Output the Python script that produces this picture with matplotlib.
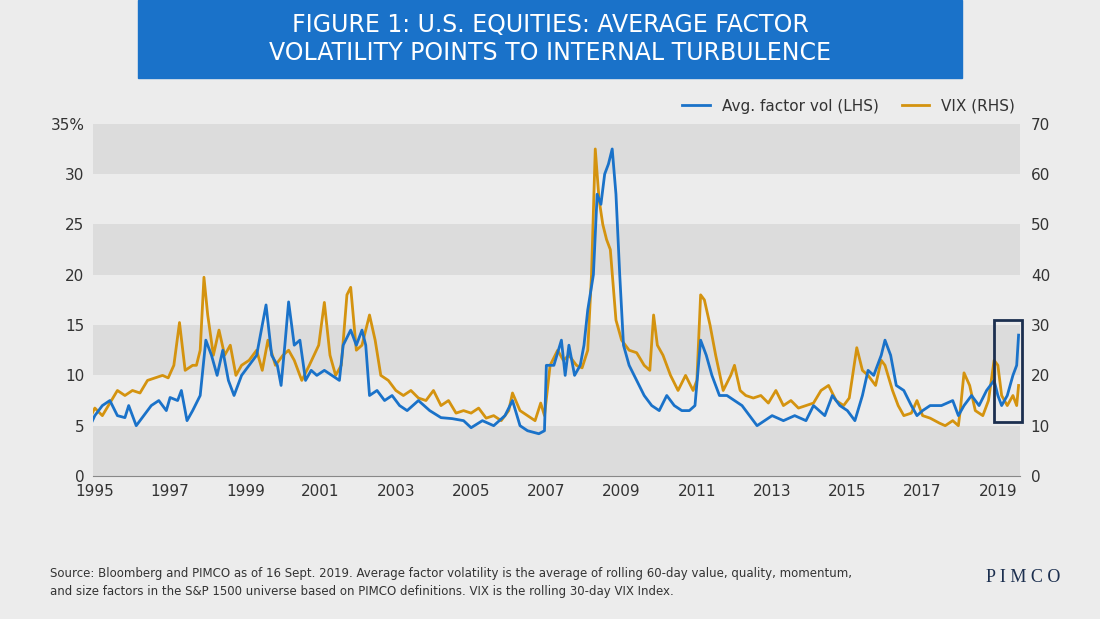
import matplotlib
matplotlib.use("Agg")
import matplotlib.pyplot as plt
from matplotlib.patches import Rectangle

# fractional year, avg factor vol (%)
fv_t = [1994.9, 1995.0, 1995.2, 1995.4, 1995.6, 1995.8, 1995.9, 1996.1, 1996.3, 1996.5, 1996.7, 1996.9,
        1997.0, 1997.2, 1997.3, 1997.45, 1997.6, 1997.8, 1997.95, 1998.1, 1998.25, 1998.4, 1998.55, 1998.7,
        1998.9, 1999.1, 1999.3, 1999.45, 1999.55, 1999.7, 1999.85, 1999.95, 2000.05, 2000.15, 2000.3, 2000.45,
        2000.6, 2000.75, 2000.9, 2001.1, 2001.3, 2001.5, 2001.6, 2001.8, 2001.95, 2002.1, 2002.2, 2002.3,
        2002.5, 2002.7, 2002.9, 2003.1, 2003.3, 2003.6, 2003.9, 2004.2, 2004.5, 2004.8, 2005.0, 2005.3,
        2005.6, 2005.9, 2006.1, 2006.3, 2006.5, 2006.8, 2006.95, 2007.0, 2007.2, 2007.4, 2007.5, 2007.6,
        2007.75, 2007.9, 2008.0, 2008.1, 2008.25, 2008.35, 2008.45, 2008.55, 2008.65, 2008.75, 2008.85, 2008.95,
        2009.05, 2009.2, 2009.4, 2009.6, 2009.8, 2010.0, 2010.2, 2010.4, 2010.6, 2010.8, 2010.95, 2011.1,
        2011.25, 2011.4, 2011.6, 2011.8, 2012.0, 2012.2, 2012.4, 2012.6, 2012.8, 2013.0, 2013.3, 2013.6,
        2013.9, 2014.1, 2014.4, 2014.6, 2014.8, 2015.0, 2015.2, 2015.4, 2015.55, 2015.7, 2015.9, 2016.0,
        2016.15, 2016.3, 2016.5, 2016.7, 2016.85, 2017.0, 2017.2, 2017.5, 2017.8, 2017.95, 2018.1, 2018.3,
        2018.5, 2018.7, 2018.9, 2019.0, 2019.1, 2019.25, 2019.4, 2019.5, 2019.55]
fv_v = [5.2, 6, 7, 7.5, 6, 5.8, 7, 5, 6, 7, 7.5, 6.5,
        7.8, 7.5, 8.5, 5.5, 6.5, 8, 13.5, 12, 10, 12.5, 9.5, 8,
        10, 11, 12, 15, 17, 12, 11, 9, 13, 17.3, 13, 13.5,
        9.5, 10.5, 10, 10.5, 10, 9.5, 13, 14.5, 13, 14.5, 13, 8,
        8.5, 7.5, 8, 7, 6.5, 7.5, 6.5, 5.8, 5.7, 5.5, 4.8, 5.5,
        5, 6, 7.5, 5, 4.5, 4.2, 4.5, 11, 11, 13.5, 10, 13,
        10, 11, 13, 16.5, 20, 28, 27, 30, 31, 32.5, 28, 20,
        13, 11, 9.5, 8, 7, 6.5, 8, 7, 6.5, 6.5, 7, 13.5,
        12, 10, 8, 8, 7.5, 7, 6, 5, 5.5, 6, 5.5, 6,
        5.5, 7, 6, 8, 7, 6.5, 5.5, 8, 10.5, 10, 12, 13.5,
        12, 9, 8.5, 7, 6, 6.5, 7, 7, 7.5, 6, 7, 8,
        7, 8.5, 9.5, 8, 7, 8, 10, 11, 14]

# fractional year, VIX level
vix_t = [1994.9, 1995.0, 1995.2, 1995.4, 1995.6, 1995.8, 1996.0, 1996.2, 1996.4, 1996.6, 1996.8, 1996.95,
         1997.1, 1997.25, 1997.4, 1997.6, 1997.7, 1997.8, 1997.9, 1998.0, 1998.15, 1998.3, 1998.45, 1998.6,
         1998.75, 1998.9, 1999.1, 1999.3, 1999.45, 1999.6, 1999.8, 2000.0, 2000.15, 2000.3, 2000.5, 2000.7,
         2000.95, 2001.1, 2001.25, 2001.4, 2001.55, 2001.7, 2001.8, 2001.95, 2002.1, 2002.3, 2002.45, 2002.6,
         2002.8, 2003.0, 2003.2, 2003.4, 2003.6, 2003.8, 2004.0, 2004.2, 2004.4, 2004.6, 2004.8, 2005.0,
         2005.2, 2005.4, 2005.6, 2005.8, 2006.0, 2006.1, 2006.3, 2006.5, 2006.7, 2006.85, 2006.95, 2007.1,
         2007.3, 2007.45, 2007.6, 2007.8, 2007.95, 2008.1, 2008.2, 2008.3, 2008.4, 2008.5, 2008.6, 2008.7,
         2008.85, 2009.0, 2009.2, 2009.4, 2009.6, 2009.75, 2009.85, 2009.95, 2010.1, 2010.3, 2010.5, 2010.7,
         2010.9, 2011.0, 2011.1, 2011.2, 2011.35, 2011.5, 2011.7, 2011.9, 2012.0, 2012.15, 2012.3, 2012.5,
         2012.7, 2012.9, 2013.1, 2013.3, 2013.5, 2013.7, 2013.9, 2014.1, 2014.3, 2014.5, 2014.7, 2014.9,
         2015.05, 2015.25, 2015.4, 2015.55, 2015.75, 2015.9, 2016.0, 2016.2, 2016.35, 2016.5, 2016.7, 2016.85,
         2017.0, 2017.2, 2017.45, 2017.6, 2017.8, 2017.95, 2018.0, 2018.1, 2018.25, 2018.4, 2018.6, 2018.75,
         2018.9, 2019.0, 2019.1, 2019.25, 2019.4, 2019.5, 2019.55]
vix_v = [12, 13.5, 12, 14.5, 17, 16, 17, 16.5, 19, 19.5, 20, 19.5,
         22, 30.5, 21, 22, 22, 25, 39.5, 32, 24, 29, 24, 26,
         20, 22, 23, 25, 21, 27, 22, 24, 25, 23, 19, 22,
         26, 34.5, 24, 20, 22, 36, 37.5, 25, 26, 32, 27, 20,
         19, 17, 16, 17, 15.5, 15, 17, 14, 15, 12.5, 13, 12.5,
         13.5, 11.5, 12, 11, 13, 16.5, 13, 12, 11, 14.5, 12, 22,
         25, 23, 24, 22, 21.5, 25, 40, 65, 55, 50, 47, 45,
         31, 27, 25, 24.5, 22, 21, 32, 26, 24, 20, 17, 20,
         17, 19, 36, 35, 30, 24, 17, 20, 22, 17, 16, 15.5,
         16, 14.5, 17, 14, 15, 13.5, 14, 14.5, 17, 18, 15, 14,
         15.5, 25.5, 21, 20, 18, 23, 22, 17, 14, 12, 12.5, 15,
         12, 11.5, 10.5, 10, 11, 10, 13, 20.5, 18, 13, 12, 15,
         23, 22, 16, 14, 16, 14, 18]

years = list(range(1995, 2020, 2))
left_ticks = [0, 5, 10, 15, 20, 25, 30, 35]
left_labels = ["0", "5", "10", "15", "20", "25", "30", "35%"]
right_ticks = [0, 10, 20, 30, 40, 50, 60, 70]

BLUE = "#1a72c9"
GOLD = "#d4930f"
TXT = "#333333"

fig = plt.figure(figsize=(11, 6.19), dpi=100, facecolor="#ececec")
ax = fig.add_axes([0.0845, 0.231, 0.8425, 0.569])
ax.plot(fv_t, fv_v, color=BLUE, lw=2, zorder=3, label="Avg. factor vol (LHS)")
ax.set_xlim(1994.95, 2019.58)
ax.set_ylim(0, 35)
ax.set_yticks(left_ticks)
ax.set_yticklabels(left_labels)
ax.set_xticks(years)
ax.tick_params(length=0, labelsize=11, colors=TXT, pad=6)
for s in ax.spines.values():
    s.set_visible(False)
ax.spines["bottom"].set_visible(True)
ax.spines["bottom"].set_color("#888888")

ax2 = ax.twinx()
ax2.plot(vix_t, vix_v, color=GOLD, lw=2, zorder=2, label="VIX (RHS)")
ax2.set_ylim(0, 70)
ax2.set_yticks(right_ticks)
ax2.tick_params(length=0, labelsize=11, colors=TXT, pad=8)
for s in ax2.spines.values():
    s.set_visible(False)
# background bands live on ax2 (drawn below), ax sits on top with transparent patch
ax.set_zorder(ax2.get_zorder() + 1)
ax.patch.set_visible(False)
ax2.patch.set_visible(True)
ax2.patch.set_facecolor("#ececec")
for lo in range(0, 70, 20):
    ax2.axhspan(lo, lo + 10, color="#dcdcdc", lw=0, zorder=0)

ax.add_patch(Rectangle((2018.9, 5.4), 0.75, 10.1, fill=False, ec="#1c2f4f", lw=2,
                       clip_on=False, zorder=5))

h1, l1 = ax.get_legend_handles_labels()
h2, l2 = ax2.get_legend_handles_labels()
ax.legend(h1 + h2, l1 + l2, loc="lower right", bbox_to_anchor=(1.01, 0.99), ncol=2,
          frameon=False, fontsize=11, handlelength=1.8, columnspacing=1.5, labelcolor=TXT)

fig.patches.append(Rectangle((138 / 1100, 1 - 78 / 619), 824 / 1100, 78 / 619,
                             transform=fig.transFigure, color=BLUE, zorder=0))
fig.text(0.5, 1 - 39 / 619, "FIGURE 1: U.S. EQUITIES: AVERAGE FACTOR\nVOLATILITY POINTS TO INTERNAL TURBULENCE",
         ha="center", va="center", color="white", fontsize=17, linespacing=1.25)
fig.text(50 / 1100, 1 - 582 / 619,
         "Source: Bloomberg and PIMCO as of 16 Sept. 2019. Average factor volatility is the average of rolling 60-day value, quality, momentum,\n"
         "and size factors in the S&P 1500 universe based on PIMCO definitions. VIX is the rolling 30-day VIX Index.",
         ha="left", va="center", fontsize=8.5, color=TXT, linespacing=1.5)
fig.text(1060 / 1100, 1 - 577 / 619, "P I M C O", ha="right", va="center", fontsize=13,
         family="Liberation Serif", color="#1c2f4f")

fig.savefig("out.png", dpi=100, facecolor=fig.get_facecolor())
